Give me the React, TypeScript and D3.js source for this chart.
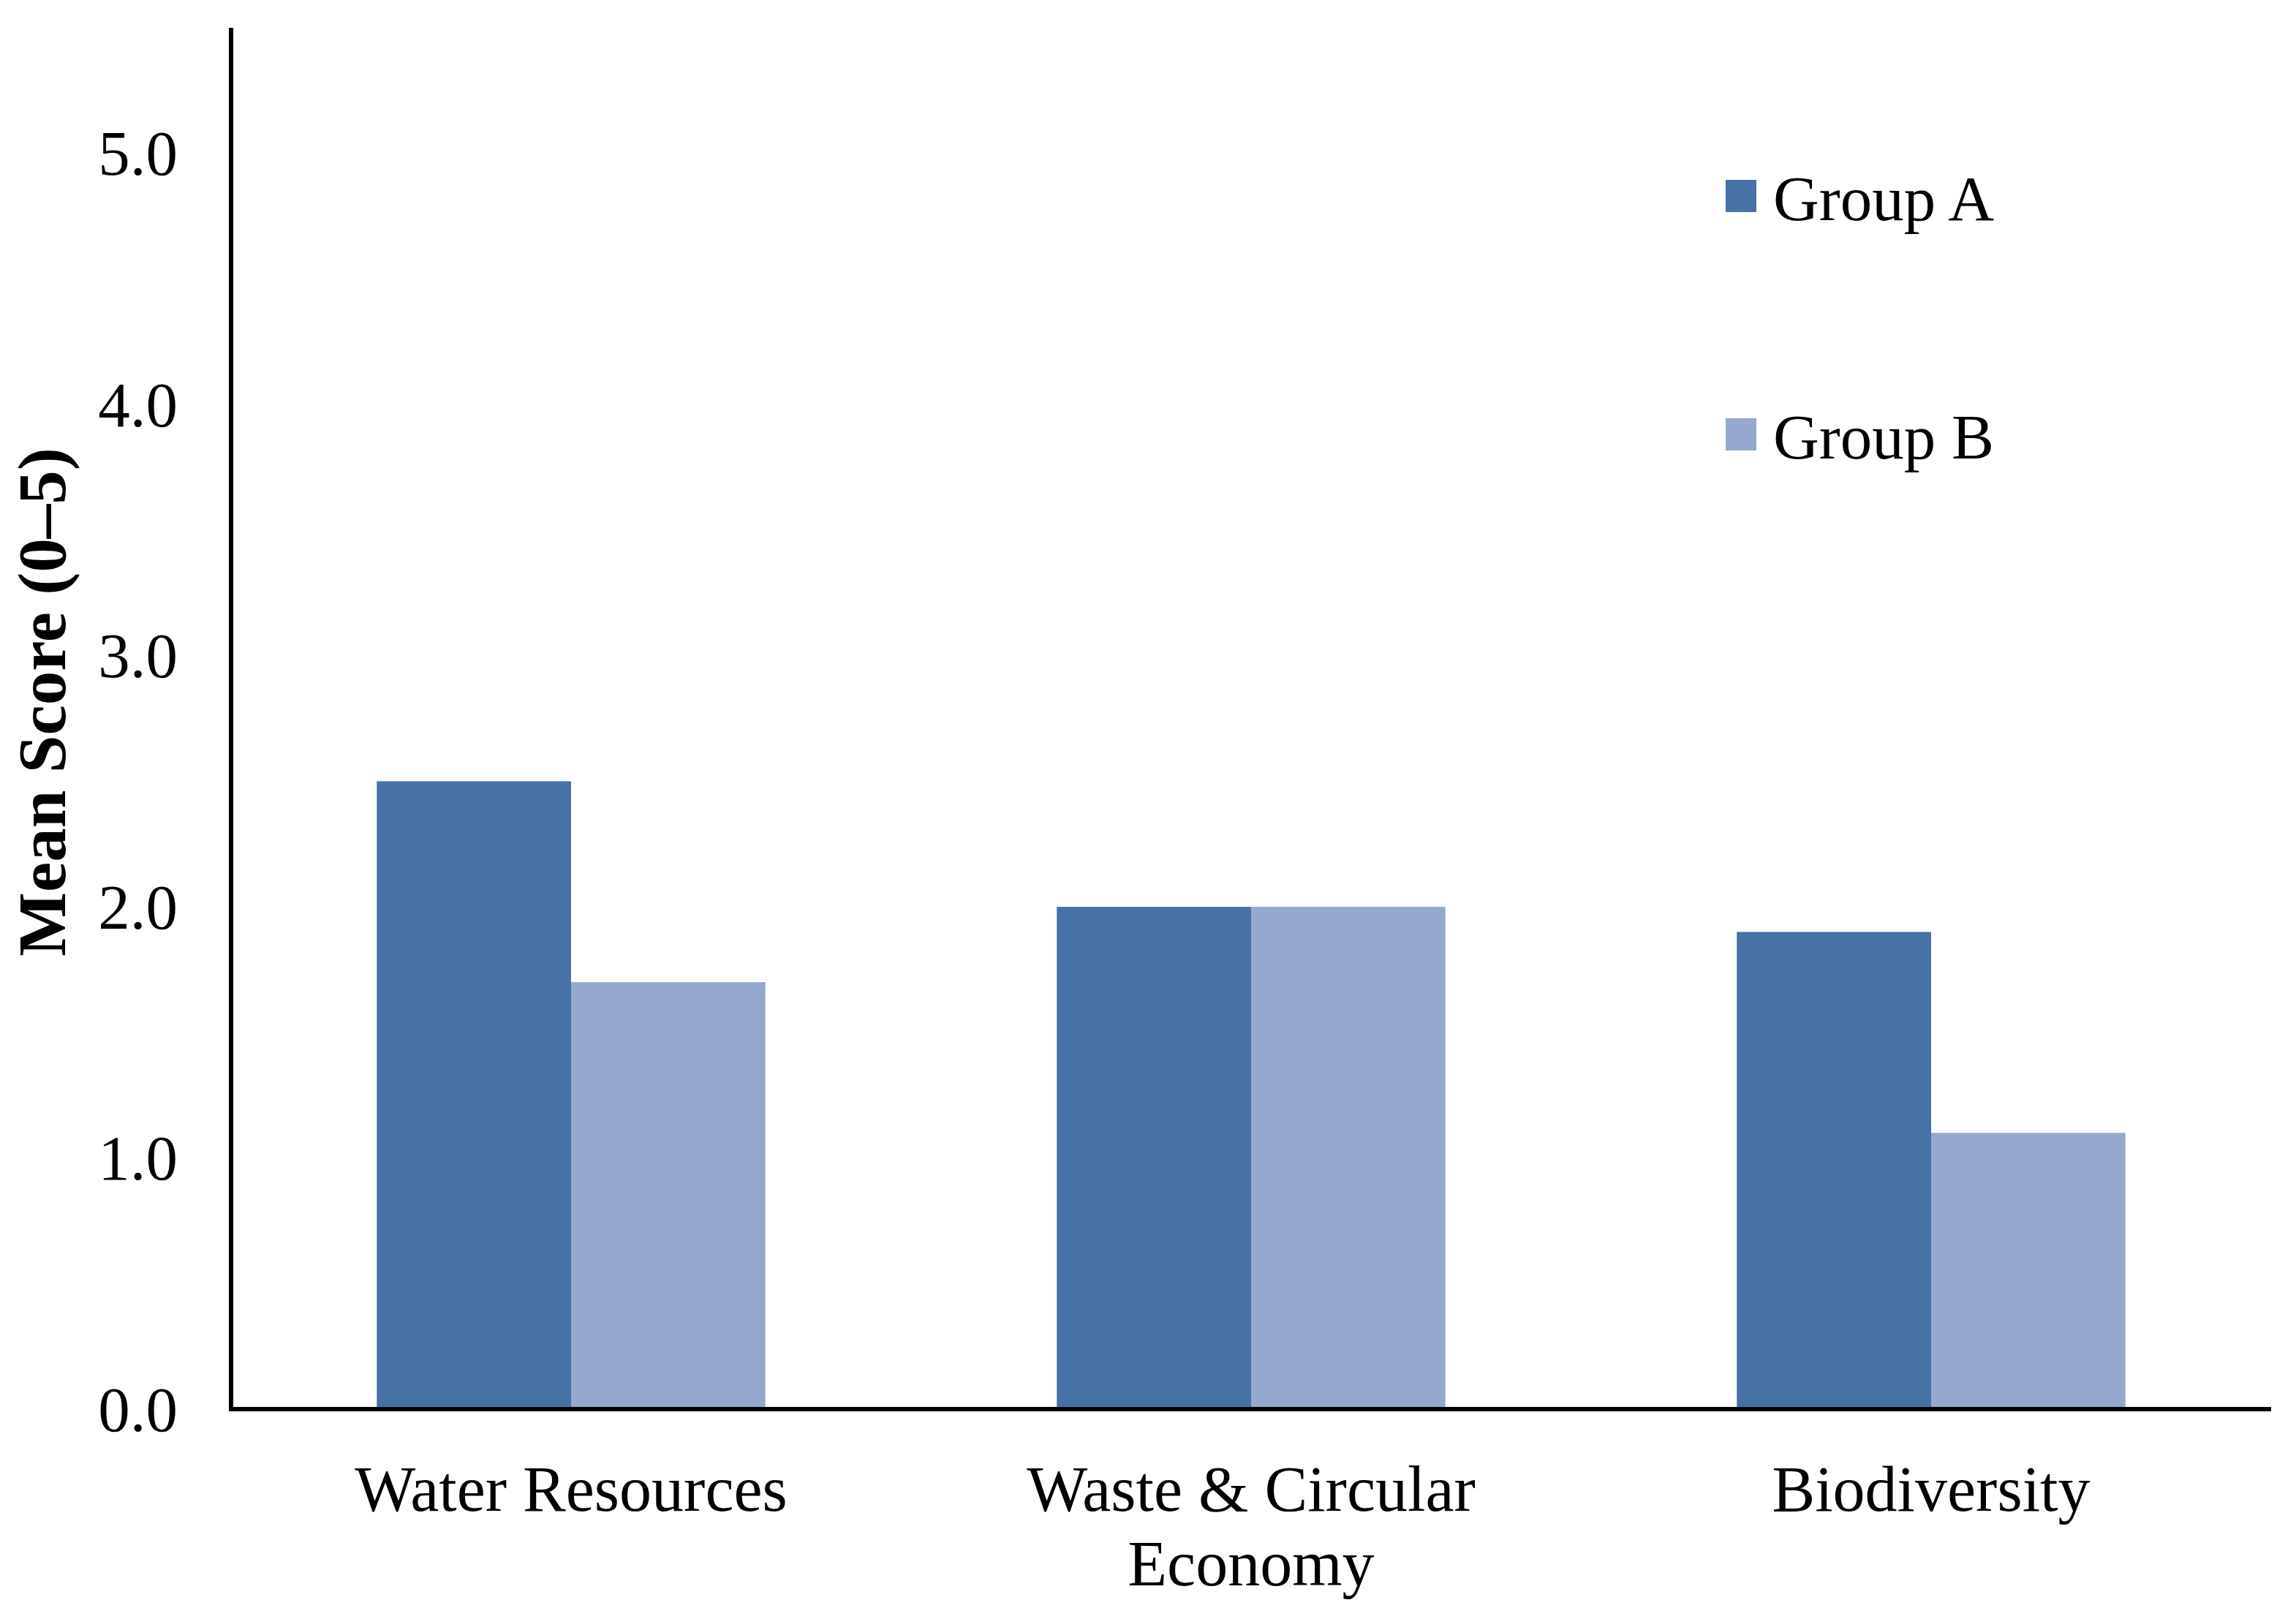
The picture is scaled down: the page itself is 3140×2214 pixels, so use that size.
import { useEffect } from 'react'
import { scaleBand, scaleLinear, format } from 'd3'

// Grouped bars: mean score per domain, two groups, Excel-like styling.
const categories = ['Water Resources', 'Waste & Circular Economy', 'Biodiversity']
const categoryLines: string[][] = [['Water Resources'], ['Waste & Circular', 'Economy'], ['Biodiversity']]
const groups = ['Group A', 'Group B']
const groupA = [2.5, 2.0, 1.9]
const groupB = [1.7, 2.0, 1.1]
const yTicks = [0, 1, 2, 3, 4, 5]

const COLORS: Record<string, string> = {
  'Group A': '#4672A6',
  'Group B': '#95A9CF',
}

const W = 3140
const H = 2214
const FONT = '"Liberation Serif", "Times New Roman", serif'

export default function App() {
  useEffect(() => {
    document.body.style.margin = '0'
  }, [])

  const m = { left: 316, right: 34, top: 38, bottom: 287 }
  const x = scaleBand<string>().domain(categories).range([m.left, W - m.right]).padding(0)
  const g = scaleBand<string>().domain(groups).range([0, x.bandwidth()]).paddingInner(0).paddingOuter(0.75)
  const y = scaleLinear().domain([0, 5.5]).range([H - m.bottom, m.top])
  const fmt = format('.1f')
  const values: Record<string, number[]> = { 'Group A': groupA, 'Group B': groupB }

  return (
    <svg width={W} height={H} viewBox={`0 0 ${W} ${H}`} style={{ display: 'block', background: '#fff' }}>
      {/* bars */}
      {groups.map((grp) =>
        categories.map((c, i) => (
          <rect
            key={grp + c}
            x={(x(c) ?? 0) + (g(grp) ?? 0)}
            y={y(values[grp][i])}
            width={g.bandwidth()}
            height={y(0) - y(values[grp][i])}
            fill={COLORS[grp]}
          />
        )),
      )}

      {/* axes */}
      <line x1={m.left} x2={m.left} y1={y(5.5)} y2={y(0) + 3} stroke="#000" strokeWidth={6} />
      <line x1={m.left - 3} x2={W - m.right} y1={y(0)} y2={y(0)} stroke="#000" strokeWidth={6} />

      {/* y tick labels */}
      {yTicks.map((t) => (
        <text key={t} x={m.left - 73} y={y(t)} dy="0.34em" textAnchor="end" fontFamily={FONT} fontSize={87} fill="#000">
          {fmt(t)}
        </text>
      ))}

      {/* y title */}
      <text
        transform="translate(89, 960) rotate(-90)"
        textAnchor="middle"
        fontFamily={FONT}
        fontSize={93}
        fontWeight="bold"
        fill="#000"
      >
        Mean Score (0–5)
      </text>

      {/* category labels */}
      {categories.map((c, i) => (
        <text key={c} textAnchor="middle" fontFamily={FONT} fontSize={88} fill="#000">
          {categoryLines[i].map((ln, j) => (
            <tspan key={ln} x={(x(c) ?? 0) + x.bandwidth() / 2} y={y(0) + 139 + j * 102}>
              {ln}
            </tspan>
          ))}
        </text>
      ))}

      {/* legend */}
      {groups.map((grp, i) => (
        <g key={grp} transform={`translate(2360, ${246 + i * 326})`}>
          <rect x={0} y={0} width={42} height={44} fill={COLORS[grp]} />
          <text x={65} y={55} fontFamily={FONT} fontSize={87} fill="#000">
            {grp}
          </text>
        </g>
      ))}
    </svg>
  )
}
